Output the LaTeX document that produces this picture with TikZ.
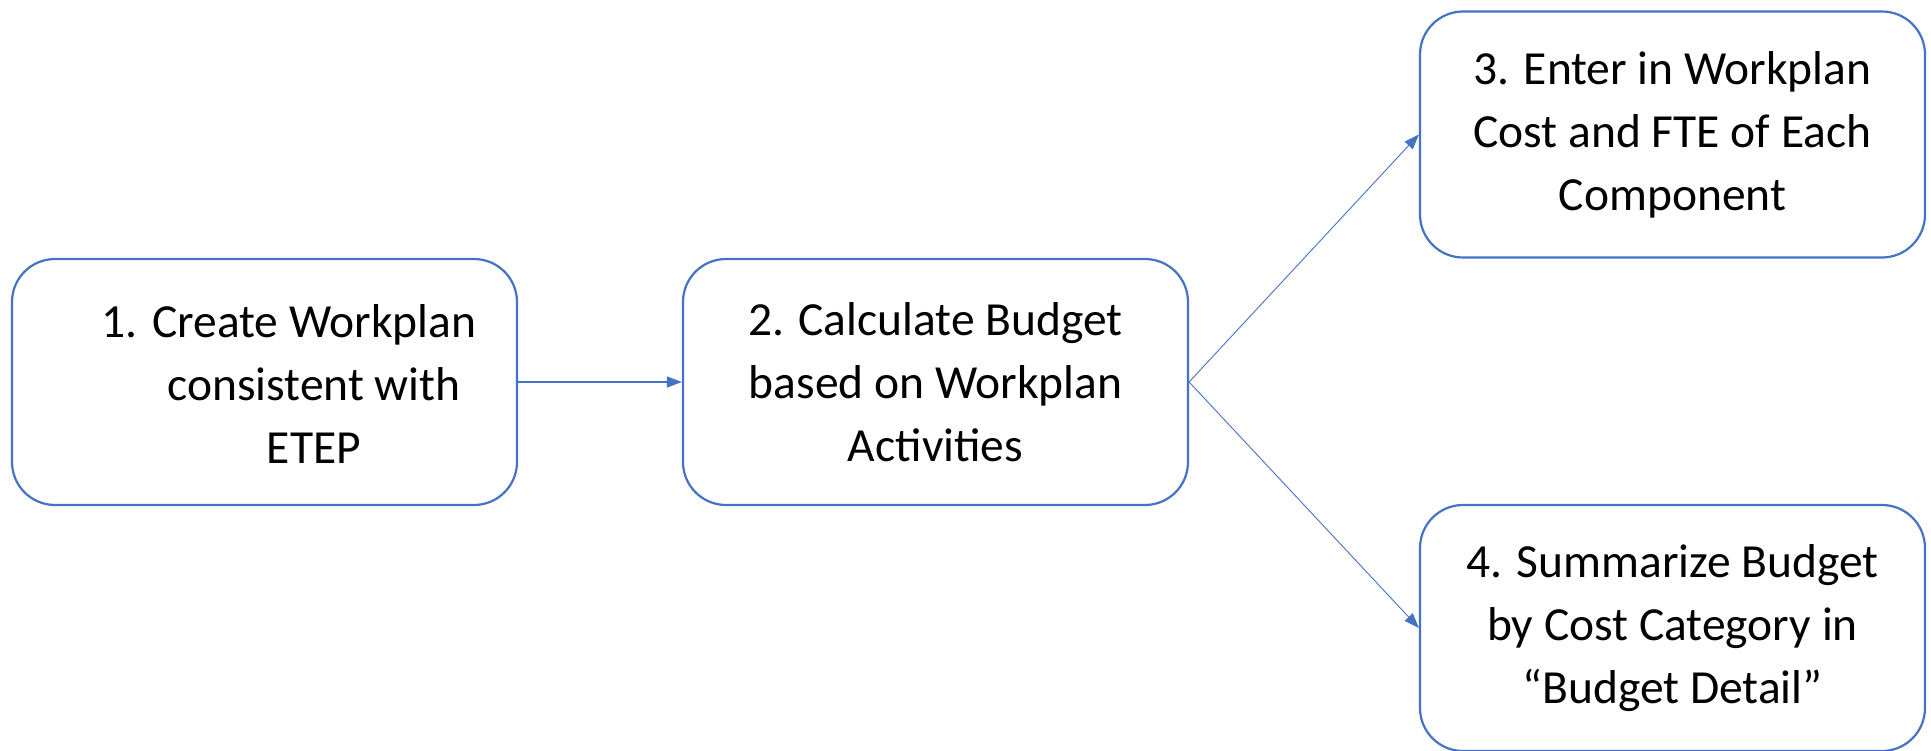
\documentclass[tikz,border=0pt]{standalone}
\usepackage{fontspec}
\setmainfont{Carlito}
\usetikzlibrary{arrows.meta}
\definecolor{wblue}{HTML}{4472C4}
\begin{document}
\begin{tikzpicture}[x=1pt,y=-1pt,
  stepbox/.style={draw=wblue, line width=2.2pt, rounded corners=43pt, minimum width=505pt, minimum height=246pt, inner sep=0pt, fill=white, align=center, font=\fontsize{47.5}{63}\selectfont},
  txt/.style={align=center, font=\fontsize{47.5}{63}\selectfont, inner sep=0pt},
  link/.style={draw=wblue, line width=1.2pt, -{Triangle[length=15pt,width=11pt]}}]
\useasboundingbox (0,0) rectangle (1931,751);
\clip (0,0) rectangle (1931,751);
\node[stepbox] (b1) at (264.5,382) {};
\node[txt] (t1) at (314,384) {\hspace*{-50pt}1. Create Workplan\\consistent with\\ETEP};
\node[stepbox] (b2) at (935.5,382) {2. Calculate Budget\\based on Workplan\\Activities};
\node[stepbox] (b3) at (1672.5,134.5) {3. Enter in Workplan\\Cost and FTE of Each\\Component};
\node[stepbox] (b4) at (1672.5,628) {4. Summarize Budget\\by Cost Category in\\“Budget Detail”};
\draw[link] (b1.east) -- (b2.west);
\draw[link, line width=0.9pt] (b2.east) -- (b3.west);
\draw[link, line width=0.9pt] (b2.east) -- (b4.west);
\end{tikzpicture}
\end{document}
